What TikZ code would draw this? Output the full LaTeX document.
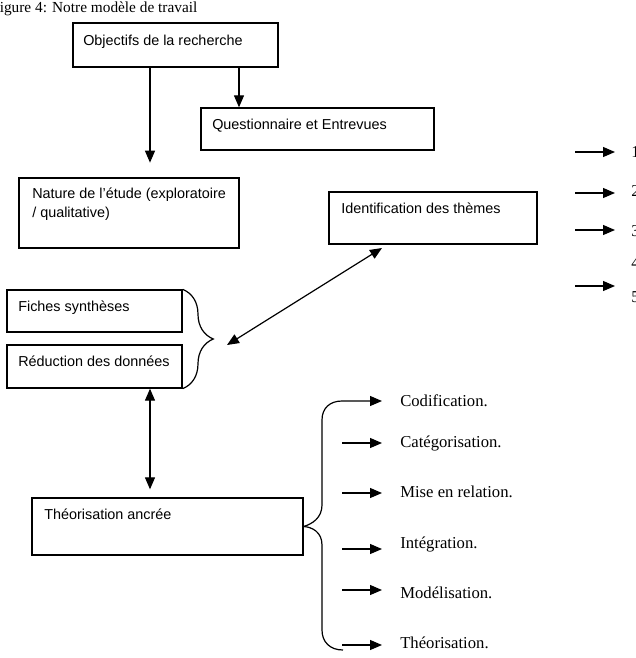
\documentclass[tikz,border=0pt]{standalone}
\usepackage{fontspec}
\setmainfont{Liberation Serif}
\setsansfont{Liberation Sans}
\usetikzlibrary{arrows.meta}
\usetikzlibrary{fit}
\usetikzlibrary{decorations.pathreplacing}

\tikzset{
  box/.style={draw, line width=1pt, inner sep=0pt},
  boxtext/.style={anchor=base west, inner sep=0pt, align=left,
    font=\sffamily\fontsize{10.8}{14.25}\selectfont},
  steplab/.style={anchor=base west, inner sep=0pt,
    font=\fontsize{12.5}{15}\selectfont},
  arr/.style={line width=.9pt, -{Triangle[length=9pt,width=7.5pt]}},
  dbl/.style={line width=.9pt,
    {Triangle[length=9pt,width=7.5pt]}-{Triangle[length=9pt,width=7.5pt]}},
}

\begin{document}
\begin{tikzpicture}[x=.75pt,y=-.75pt]
\useasboundingbox (0,0) rectangle (636,658);
% caption
\node[steplab, font=\fontsize{11.5}{14}\selectfont] (cap) at (-9,12) {Figure 4: Notre modèle de travail};
% boxes
\node[box, fit={(73,23) (278,67)}] (obj) {};
\node[box, fit={(201,108) (434,150)}] (que) {};
\node[box, fit={(19,178) (239,248)}] (nat) {};
\node[box, fit={(329,192) (537,244)}] (idt) {};
\node[box, fit={(7,290) (182,332)}] (fic) {};
\node[box, fit={(7,345) (182,388)}] (red) {};
\node[box, fit={(32,498) (303,555)}] (theo) {};
\node[boxtext] (obj-t) at (83,45) {Objectifs de la recherche};
\node[boxtext] (que-t) at (212,129) {Questionnaire et Entrevues};
\node[boxtext] (nat-t) at (32,217) {Nature de l'étude (exploratoire\\/ qualitative)};
\node[boxtext] (idt-t) at (341,213) {Identification des thèmes};
\node[boxtext] (fic-t) at (18,311) {Fiches synthèses};
\node[boxtext] (red-t) at (18,366) {Réduction des données};
\node[boxtext] (theo-t) at (44,519) {Théorisation ancrée};
% connectors
\coordinate (a1) at (150,0);
\coordinate (a2) at (239,0);
\draw[arr, shorten >=11pt] (obj.south -| a1) -- (nat.north -| a1);
\draw[arr] (obj.south -| a2) -- (que.north -| a2);
\draw[dbl, shorten >=6pt] (red.south -| a1) -- (theo.north -| a1);
\draw[line width=.9pt, decorate, decoration={brace, amplitude=23pt}] (fic.north east) -- (red.south east);
\coordinate (d1) at (227,345);
\coordinate (d2) at (382,248);
\draw[dbl] (d1) -- (d2);
% numbers on the right
\foreach \i/\y in {1/152,2/191,3/231,4/263,5/297}
  \node[steplab, anchor=west] (num\i) at (631,\y) {\i};
\foreach \i/\y in {1/152,2/193,3/230,5/286}{
  \coordinate (r\i) at (615,\y);
  \draw[arr] (r\i) ++(-40,0) -- (r\i);
}
% steps
\foreach \n/\t/\ya/\yb in {cod/Codification./401/406, cat/Catégorisation./443/447,
  mis/Mise en relation./493/497, int/Intégration./549/548,
  mod/Modélisation./590/598, the/Théorisation./645/648}{
  \node[steplab] (\n) at (400,\yb) {\t};
  \coordinate (\n-in) at (382,\ya);
}
\foreach \n in {cat,mis,int,mod,the}
  \draw[arr] (\n-in) ++(-40,0) -- (\n-in);
\draw[arr] (theo.east) .. controls (312,524) and (322,518) .. (322,505) -- (322,420)
  .. controls (322,408) and (330,401) .. (342,401) -- (cod-in);
\draw[line width=.9pt] (theo.east) .. controls (312,527) and (322,532) .. (322,545) -- (322,630)
  .. controls (322,642) and (330,650) .. (343,650);
\end{tikzpicture}
\end{document}
